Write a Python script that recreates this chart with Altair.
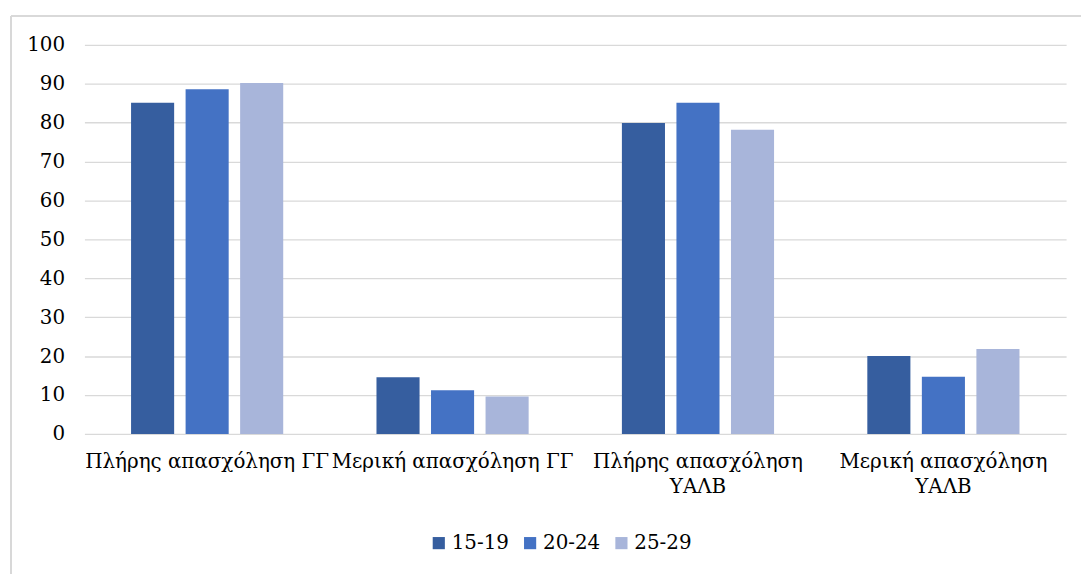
import json
import altair as alt
import pandas as pd

categories = ["Πλήρης απασχόληση ΓΓ", "Μερική απασχόληση ΓΓ",
              "Πλήρης απασχόληση ΥΑΛΒ", "Μερική απασχόληση ΥΑΛΒ"]
category_lines = [["Πλήρης απασχόληση ΓΓ"], ["Μερική απασχόληση ΓΓ"],
                  ["Πλήρης απασχόληση", "ΥΑΛΒ"], ["Μερική απασχόληση", "ΥΑΛΒ"]]
groups = ["15-19", "20-24", "25-29"]
values_15_19 = [85.1, 14.6, 79.9, 20.0]
values_20_24 = [88.6, 11.2, 85.1, 14.7]
values_25_29 = [90.2, 9.6, 78.2, 21.8]
colors = ["#365E9F", "#4472C4", "#A8B5DA"]
y_ticks = [0, 10, 20, 30, 40, 50, 60, 70, 80, 90, 100]

rows = []
for g, vals in zip(groups, [values_15_19, values_20_24, values_25_29]):
    for c, v in zip(categories, vals):
        rows.append({"category": c, "group": g, "value": v})
df = pd.DataFrame(rows)

label_map = {c: lines for c, lines in zip(categories, category_lines)}
label_expr = json.dumps(label_map, ensure_ascii=False) + "[datum.value]"

FONT = "DejaVu Serif"
FS = 20

bars = alt.Chart(df).mark_bar().encode(
    x=alt.X("category:N", sort=categories, title=None,
            scale=alt.Scale(paddingInner=0.38, paddingOuter=0.19),
            axis=alt.Axis(labelAngle=0, labelExpr=label_expr, labelPadding=18,
                          labelLineHeight=25, ticks=False, domain=False, labelLimit=0,
                          labelFont=FONT, labelFontSize=FS, labelColor="#000000",
                          labelBaseline="top")),
    xOffset=alt.XOffset("group:N", sort=groups,
                        scale=alt.Scale(paddingInner=0.21, paddingOuter=0)),
    y=alt.Y("value:Q", title=None,
            scale=alt.Scale(domain=[0, 100], nice=False),
            axis=alt.Axis(values=y_ticks, ticks=False, domain=False, labelPadding=20,
                          gridColor="#D9D9D9", gridWidth=1.3,
                          labelFont=FONT, labelFontSize=FS, labelColor="#000000")),
    color=alt.Color("group:N", sort=groups,
                    scale=alt.Scale(domain=groups, range=colors),
                    legend=alt.Legend(title=None, orient="none", direction="horizontal",
                                      legendX=347, legendY=492,
                                      symbolType="square", symbolSize=150,
                                      symbolStrokeWidth=0, labelOffset=3,
                                      columnPadding=11, labelLimit=0,
                                      labelFont=FONT, labelFontSize=FS,
                                      labelColor="#000000")),
)

border_left = alt.Chart(df).mark_rule(color="#D9D9D9", strokeWidth=1.5).encode(
    x=alt.value(-74), y=alt.value(-29), y2=alt.value(600))
border_top = alt.Chart(df).mark_rule(color="#D9D9D9", strokeWidth=1.5).encode(
    x=alt.value(-74), x2=alt.value(1100), y=alt.value(-29))

chart = alt.layer(border_left, border_top, bars).properties(
    width=989, height=392,
    autosize=alt.AutoSizeParams(type="none"),
    padding={"left": 77, "top": 35, "right": 15, "bottom": 139},
    background="#FFFFFF",
).configure(font=FONT).configure_view(stroke=None)

chart.save("out.html", embed_options={"renderer": "svg", "actions": False})
